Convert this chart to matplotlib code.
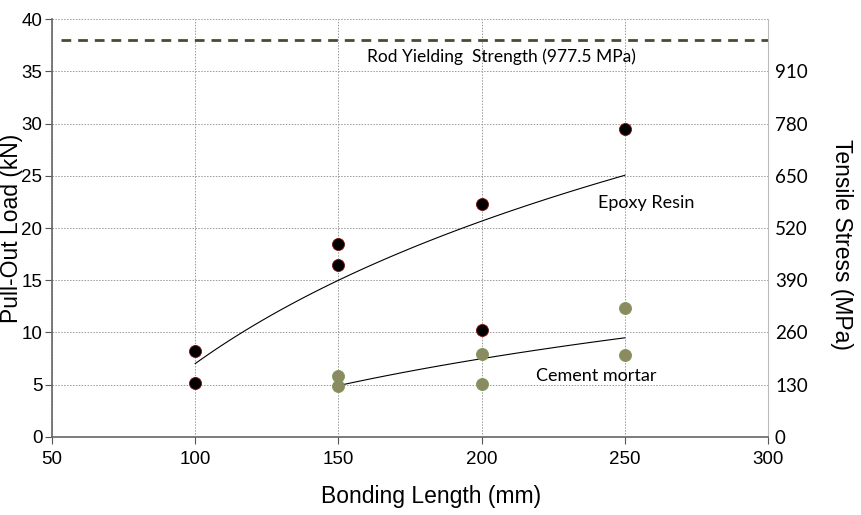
import numpy as np
import matplotlib
matplotlib.use("Agg")
import matplotlib.pyplot as plt

plt.rcParams['font.family'] = ['Liberation Sans', 'DejaVu Sans']

# pull-out test results (kN)
epoxy_len = [100, 100, 150, 150, 200, 200, 250]
epoxy_load = [8.2, 5.2, 18.5, 16.5, 22.3, 10.2, 29.5]
cement_len = [150, 150, 200, 200, 250, 250]
cement_load = [5.8, 4.9, 7.9, 5.1, 12.3, 7.8]
rod_yield = 38.0
stress_ticks = [0, 130, 260, 390, 520, 650, 780, 910]
mpa_per_kn = 26.0

note_font = ['Lato', 'DejaVu Sans']


def log_trend(x, y):
    # excel-style logarithmic trendline
    b, a = np.polyfit(np.log(x), y, 1)
    xs = np.linspace(min(x), max(x), 100)
    return xs, a + b * np.log(xs)


fig = plt.figure(figsize=(8.61, 5.15), dpi=100)
ax = fig.add_axes([0.0604, 0.1515, 0.8316, 0.8115])

ax.plot([53, 300], [rod_yield, rod_yield], ls=(0, (3.5, 2.5)), lw=2, color='#4b4b2e')

xs, ys = log_trend(epoxy_len, epoxy_load)
ax.plot(xs, ys, color='black', lw=0.8)
xs, ys = log_trend(cement_len, cement_load)
ax.plot(xs, ys, color='black', lw=0.8)

ax.scatter(epoxy_len, epoxy_load, s=75, color='black', edgecolors='#7a1010', lw=0.6, zorder=3)
ax.scatter(cement_len, cement_load, s=75, color='#8c8a60', edgecolors='#7a9a5a', lw=0.6, zorder=3)

ax.text(160, 36.4, 'Rod Yielding  Strength (977.5 MPa)', fontsize=12.5,
        family=note_font, va='center')
ax.text(240.5, 22.4, 'Epoxy Resin', fontsize=13, family=note_font, va='center')
ax.text(219, 5.8, 'Cement mortar', fontsize=13, family=note_font, va='center')

ax.set_xlim(50, 300)
ax.set_ylim(0, 40)
ax.set_xticks(range(50, 301, 50))
ax.set_yticks(range(0, 41, 5))
ax.grid(True, ls=(0, (1.5, 1.5)), color='#999999', lw=0.7)
ax.set_axisbelow(True)
ax.tick_params(labelsize=13.5, length=5, color='#555555')
ax.tick_params(axis='x', pad=5)
ax.tick_params(axis='y', pad=2)
for s in ['left', 'bottom']:
    ax.spines[s].set_color('#666666')
    ax.spines[s].set_linewidth(1.2)
ax.spines['top'].set_visible(False)
ax.spines['right'].set_color('#bbbbbb')
ax.set_xlabel('Bonding Length (mm)', fontsize=16.5)
ax.xaxis.set_label_coords(0.53, -0.115)
ax.set_ylabel('Pull-Out Load (kN)', fontsize=16.5)
ax.yaxis.set_label_coords(-0.04, 0.5)

ax2 = ax.twinx()
ax2.set_ylim(0, 40 * mpa_per_kn)
ax2.set_yticks(stress_ticks)
ax2.tick_params(length=0, pad=5)
for lab in ax2.get_yticklabels():
    lab.set_fontfamily(note_font)
    lab.set_fontsize(13.5)
for s in ax2.spines.values():
    s.set_visible(False)
ax2.set_ylabel('Tensile Stress (MPa)', fontsize=16.5, rotation=270, va='center')
ax2.yaxis.set_label_coords(1.103, 0.46)

fig.savefig('out.png', dpi=100)
